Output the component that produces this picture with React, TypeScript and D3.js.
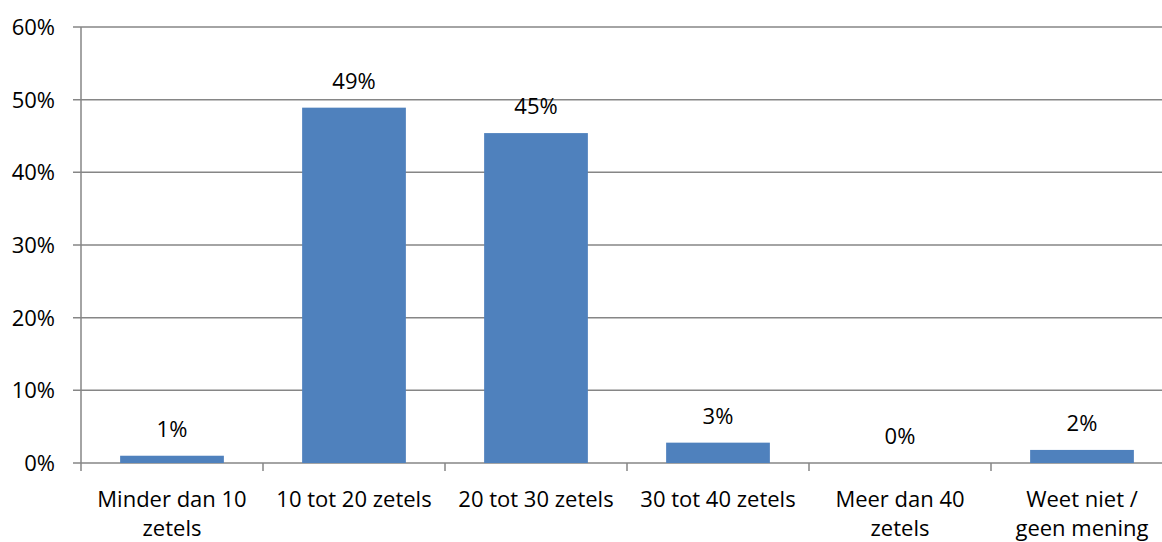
import * as d3 from "d3";

const categories = [
  ["Minder dan 10", "zetels"],
  ["10 tot 20 zetels"],
  ["20 tot 30 zetels"],
  ["30 tot 40 zetels"],
  ["Meer dan 40", "zetels"],
  ["Weet niet /", "geen mening"],
];
const values = [1.0, 48.9, 45.4, 2.8, 0, 1.8];
const valueLabels = ["1%", "49%", "45%", "3%", "0%", "2%"];
const yTicks = [0, 10, 20, 30, 40, 50, 60];

export default function App({
  width = 1162,
  height = 542,
  marginTop = 27,
  marginLeft = 81,
  plotRight = 1173,
  plotBottom = 463,
}) {
  const keys = categories.map((_, i) => String(i));
  const x = d3.scaleBand(keys, [marginLeft, plotRight]).paddingInner(0.43).paddingOuter(0.215);
  const xCat = d3.scaleBand(keys, [marginLeft, plotRight]);
  const y = d3.scaleLinear([0, 60], [plotBottom, marginTop]);
  const font = "'Open Sans', sans-serif";
  const fs = 22;

  return (
    <svg
      width={width}
      height={height}
      style={{ position: "absolute", left: 0, top: 0, background: "#fff" }}
      fontFamily={font}
    >
      {yTicks.map((t) => (
        <g key={t}>
          <line x1={marginLeft - 8} x2={plotRight} y1={y(t)} y2={y(t)} stroke="#868686" strokeWidth={1.5} />
          <text x={55} y={y(t)} dy="0.36em" textAnchor="end" fontSize={fs}>
            {t}%
          </text>
        </g>
      ))}
      <line x1={marginLeft} x2={marginLeft} y1={marginTop} y2={plotBottom + 8} stroke="#868686" strokeWidth={1.5} />
      {keys.map((k) => (
        <line
          key={k}
          x1={(xCat(k) as number) + xCat.bandwidth()}
          x2={(xCat(k) as number) + xCat.bandwidth()}
          y1={plotBottom}
          y2={plotBottom + 8}
          stroke="#868686"
          strokeWidth={1.5}
        />
      ))}
      {values.map((v, i) => (
        <rect
          key={i}
          x={x(String(i))}
          width={x.bandwidth()}
          y={y(v)}
          height={plotBottom - y(v)}
          fill="#4F81BD"
        />
      ))}
      {values.map((v, i) => (
        <text
          key={i}
          x={(x(String(i)) as number) + x.bandwidth() / 2}
          y={y(v) - 19}
          textAnchor="middle"
          fontSize={fs}
        >
          {valueLabels[i]}
        </text>
      ))}
      {categories.map((lines, i) => (
        <text
          key={i}
          x={(xCat(String(i)) as number) + xCat.bandwidth() / 2}
          y={507}
          textAnchor="middle"
          fontSize={fs}
        >
          {lines.map((l, j) => (
            <tspan key={j} x={(xCat(String(i)) as number) + xCat.bandwidth() / 2} dy={j === 0 ? 0 : 29}>
              {l}
            </tspan>
          ))}
        </text>
      ))}
    </svg>
  );
}
